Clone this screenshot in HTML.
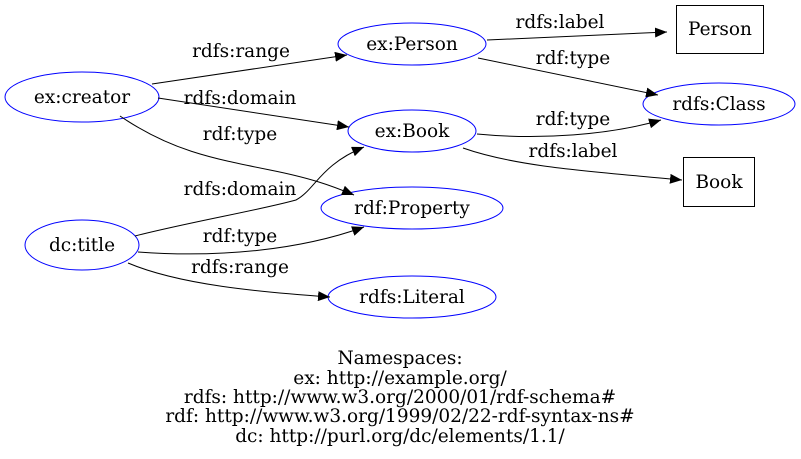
<!DOCTYPE html>
<html><head><meta charset="utf-8"><style>
html,body{margin:0;padding:0;background:#fff;width:801px;height:459px;overflow:hidden}
text{font-family:"DejaVu Serif","Liberation Serif",serif;font-size:18.5px;fill:#000}
</style></head><body>
<svg width="801" height="459" viewBox="0 0 801 459" xmlns="http://www.w3.org/2000/svg">
<defs><marker id="a" markerWidth="12" markerHeight="10" refX="12" refY="5" orient="auto" markerUnits="userSpaceOnUse"><path d="M0,0 L12,5 L0,10 z" fill="#000"/></marker></defs>
<g fill="none" stroke="#00f" stroke-width="1">
<ellipse cx="82" cy="97" rx="77" ry="25"/>
<ellipse cx="412" cy="44" rx="74" ry="21"/>
<ellipse cx="412" cy="131" rx="64" ry="21"/>
<ellipse cx="412" cy="208" rx="91" ry="21"/>
<ellipse cx="82" cy="245" rx="57" ry="25"/>
<ellipse cx="412" cy="297" rx="84" ry="21"/>
<ellipse cx="719" cy="104" rx="76" ry="21"/>
</g>
<g fill="none" stroke="#000">
<rect x="676.5" y="5.5" width="87" height="48"/>
<rect x="683.5" y="157.5" width="71" height="49"/>
<path d="M152,84 L347,55" marker-end="url(#a)"/>
<path d="M158,98 L349,127" marker-end="url(#a)"/>
<path d="M120,116 C170,150 210,158 270,170 C310,178 330,185 354,195" marker-end="url(#a)"/>
<path d="M135,236 C190,222 260,210 296,200 C315,190 320,165 364,147" marker-end="url(#a)"/>
<path d="M138,252 C220,258 300,250 364,227" marker-end="url(#a)"/>
<path d="M128,263 C180,285 260,292 330,297" marker-end="url(#a)"/>
<path d="M487,40 L667,32" marker-end="url(#a)"/>
<path d="M478,58 L658,95" marker-end="url(#a)"/>
<path d="M477,134 C540,140 610,135 661,120" marker-end="url(#a)"/>
<path d="M463,148 C520,168 600,172 682,180" marker-end="url(#a)"/>
</g>
<g text-anchor="middle">
<text x="82" y="103">ex:creator</text>
<text x="412" y="50">ex:Person</text>
<text x="412" y="137">ex:Book</text>
<text x="412" y="214">rdf:Property</text>
<text x="82" y="251">dc:title</text>
<text x="412" y="303">rdfs:Literal</text>
<text x="719" y="110">rdfs:Class</text>
<text x="720" y="35">Person</text>
<text x="719" y="188">Book</text>
<text x="241" y="57">rdfs:range</text>
<text x="240" y="104">rdfs:domain</text>
<text x="240" y="140">rdf:type</text>
<text x="240" y="195">rdfs:domain</text>
<text x="240" y="242">rdf:type</text>
<text x="240" y="273">rdfs:range</text>
<text x="560" y="28">rdfs:label</text>
<text x="573" y="64">rdf:type</text>
<text x="573" y="125">rdf:type</text>
<text x="573" y="157">rdfs:label</text>
<text x="400" y="364">Namespaces:</text>
<text x="400" y="384">ex: http://example.org/</text>
<text x="400" y="403">rdfs: http://www.w3.org/2000/01/rdf-schema#</text>
<text x="400" y="422">rdf: http://www.w3.org/1999/02/22-rdf-syntax-ns#</text>
<text x="400" y="442">dc: http://purl.org/dc/elements/1.1/</text>
</g>
</svg>
</body></html>
